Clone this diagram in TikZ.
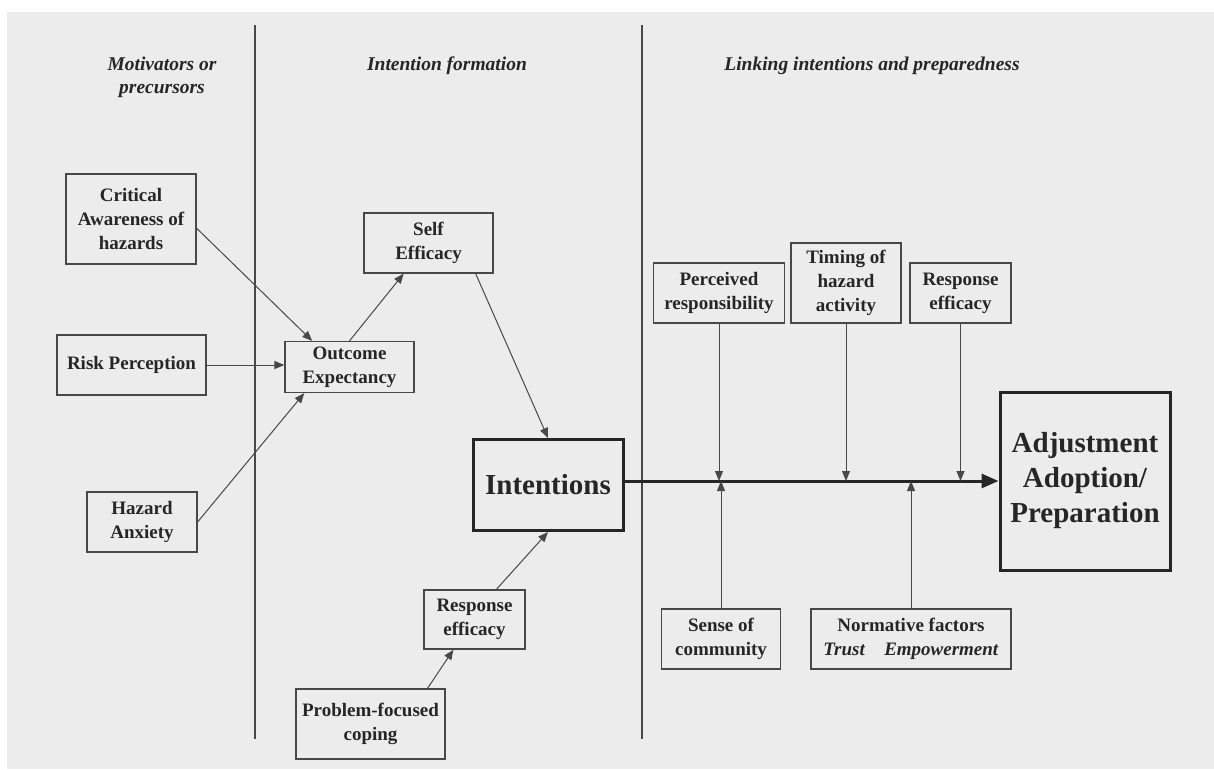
\documentclass[tikz,border=0pt]{standalone}
\usepackage{fontspec}
\setmainfont{Liberation Serif}
\usetikzlibrary{
  arrows.meta,
  positioning,
}
\definecolor{scanbg}{RGB}{236,236,236}
\definecolor{inkgray}{RGB}{72,72,72}
\definecolor{inkdark}{RGB}{38,38,38}
\tikzstyle{arrow} = [
  -{Triangle[length=10pt,width=8pt]},
  line width=1pt,
  inkgray,
]

\begin{document}
\begin{tikzpicture}[x=1pt, y=-1pt,
    box/.style={draw=inkgray, line width=1.2pt, align=center, inner sep=2pt,
                font=\fontsize{19}{24}\selectfont\bfseries, text=inkdark},
    bigbox/.style={draw=inkdark, line width=3pt, align=center, inner sep=2pt,
                   font=\fontsize{29}{35}\selectfont\bfseries, text=inkdark},
    heading/.style={align=center, text=inkdark,
                    font=\fontsize{19.5}{23}\selectfont\bfseries\itshape}]
      \useasboundingbox (0,0) rectangle (1214,769);
      \fill [scanbg] (7,12) rectangle (1214,769);
      \draw [inkgray, line width=1.2pt] (255,25) -- (255,739);
      \draw [inkgray, line width=1.2pt] (642,25) -- (642,739);

      \node [heading] (motiv) at (162,77) {Motivators or\\precursors};
      \node [heading] (formation) at (447,66) {Intention formation};
      \node [heading] (linking) at (872,66) {Linking intentions and preparedness};

      \node [box, minimum width=130pt, minimum height=90pt] (crit) at (131,219)
            {Critical\\Awareness of\\hazards};
      \node [box, minimum width=149pt, minimum height=60pt] (risk) at (131.5,365)
            {Risk Perception};
      \node [box, minimum width=110pt, minimum height=60pt] (anx) at (142,522)
            {Hazard\\Anxiety};

      \node [box, minimum width=129pt, minimum height=51pt] (outc) at (349.5,367)
            {Outcome\\Expectancy};
      \node [box, minimum width=129pt, minimum height=60pt] (self) at (428.5,243)
            {Self\\Efficacy};
      \node [bigbox, minimum width=150pt, minimum height=91pt] (intent) at (548,485)
            {Intentions};
      \node [box, minimum width=101pt, minimum height=59pt] (resp1) at (474.5,619.5)
            {Response\\efficacy};
      \node [box, minimum width=149pt, minimum height=70pt] (prob) at (370.5,724)
            {Problem-focused\\coping};

      \node [box, minimum width=131pt, minimum height=60pt] (perc) at (719,293)
            {Perceived\\responsibility};
      \node [box, minimum width=110pt, minimum height=80pt] (timing) at (846,283)
            {Timing of\\hazard\\activity};
      \node [box, minimum width=101pt, minimum height=60pt] (resp2) at (960.5,293)
            {Response\\efficacy};
      \node [bigbox, minimum width=170pt, minimum height=178pt] (adj) at (1085,481)
            {Adjustment\\Adoption/\\Preparation};
      \node [box, minimum width=119pt, minimum height=60pt] (sense) at (721,639)
            {Sense of\\community};
      \node [box, minimum width=200pt, minimum height=60pt] (norm) at (911,639)
            {Normative factors\\\textit{Trust}\quad\textit{Empowerment}};

      % motivators feed outcome expectancy
      \draw [arrow] (crit.-8) -- (outc.145);
      \draw [arrow] (risk.east) -- (risk.east -| outc.west);
      \draw [arrow] (anx.east) -- (outc.210);
      \draw [arrow] (outc.north) -- (self.231);
      \draw [arrow] (self.-33) -- (intent.north);
      \draw [arrow] (prob.32) -- (resp1.235);
      \draw [arrow] (resp1.54) -- (intent.south);

      % main path and moderators
      \draw [-{Triangle[length=17pt,width=14pt]}, line width=3pt, inkdark]
            (intent.east |- adj.west) -- (adj.west);
      \draw [arrow] (perc.south) -- (perc.south |- adj.west);
      \draw [arrow] (timing.south) -- (timing.south |- adj.west);
      \draw [arrow] (resp2.south) -- (resp2.south |- adj.west);
      \draw [arrow] (sense.north) -- (sense.north |- adj.west);
      \draw [arrow] (norm.north) -- (norm.north |- adj.west);
\end{tikzpicture}
\end{document}
